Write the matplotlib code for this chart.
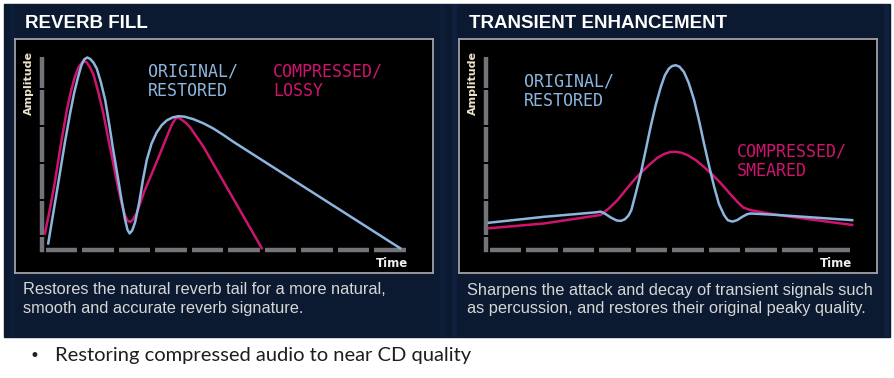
import matplotlib
matplotlib.use("Agg")
import matplotlib.pyplot as plt
from matplotlib.patches import Rectangle

# ---- data (time units, amplitude units) ----
# Reverb fill panel
reverb_orig_t = [0.17, 0.33, 0.49, 0.63, 0.77, 0.88, 0.99, 1.08, 1.16, 1.24, 1.32, 1.41,
                 1.50, 1.61, 1.73, 1.84, 1.95, 2.07, 2.18, 2.27, 2.34, 2.40, 2.47, 2.55,
                 2.66, 2.77, 2.87, 3.00, 3.14, 3.28, 3.42, 3.58, 3.73, 3.90, 4.15, 4.42,
                 4.69, 4.96, 5.24, 9.81]
reverb_orig_a = [0.15, 1.10, 2.05, 2.90, 3.67, 4.22, 4.66, 4.97, 5.13, 5.18, 5.14, 5.04,
                 4.88, 4.52, 4.03, 3.38, 2.68, 1.98, 1.32, 0.82, 0.52, 0.42, 0.50, 0.72,
                 1.25, 1.90, 2.41, 2.85, 3.15, 3.35, 3.48, 3.56, 3.59, 3.58, 3.51, 3.40,
                 3.26, 3.09, 2.90, 0.02]
reverb_lossy_t = [0.08, 0.22, 0.36, 0.52, 0.68, 0.80, 0.90, 1.01, 1.13, 1.22, 1.31, 1.41,
                  1.54, 1.68, 1.81, 1.95, 2.07, 2.18, 2.27, 2.34, 2.41, 2.48, 2.59, 2.80,
                  3.05, 3.25, 3.42, 3.55, 3.65, 3.73, 3.82, 3.93, 4.05, 4.42, 6.02]
reverb_lossy_a = [0.42, 1.10, 1.86, 2.85, 3.76, 4.30, 4.66, 4.93, 5.09, 5.05, 4.92, 4.72,
                  4.25, 3.67, 3.00, 2.32, 1.72, 1.23, 0.92, 0.77, 0.73, 0.78, 0.96, 1.55,
                  2.14, 2.62, 3.04, 3.35, 3.52, 3.56, 3.50, 3.42, 3.30, 2.77, 0.02]

# Transient enhancement panel
trans_orig_t = [0.08, 1.59, 3.00, 3.14, 3.25, 3.42, 3.58, 3.69, 3.80, 3.90, 3.98, 4.10,
                4.24, 4.38, 4.51, 4.65, 4.79, 4.90, 5.01, 5.10, 5.20, 5.30, 5.42, 5.55,
                5.70, 5.84, 5.97, 6.11, 6.25, 6.38, 6.52, 6.62, 6.75, 6.88, 7.02, 7.15,
                7.25, 7.98, 10.03]
trans_orig_a = [0.71, 0.87, 0.99, 1.01, 0.96, 0.85, 0.77, 0.76, 0.80, 0.90, 1.05, 1.50,
                2.05, 2.70, 3.31, 3.90, 4.39, 4.70, 4.88, 4.95, 4.97, 4.93, 4.79, 4.50,
                4.03, 3.45, 2.86, 2.25, 1.68, 1.22, 0.92, 0.78, 0.74, 0.78, 0.87, 0.94,
                0.96, 0.92, 0.78]
trans_smear_t = [0.08, 1.59, 3.14, 3.37, 3.60, 3.83, 4.05, 4.28, 4.51, 4.70, 4.88, 5.04,
                 5.20, 5.36, 5.52, 5.75, 5.97, 6.20, 6.43, 6.66, 6.88, 7.05, 7.25, 7.98,
                 10.03]
trans_smear_a = [0.56, 0.69, 0.92, 1.10, 1.32, 1.60, 1.86, 2.10, 2.31, 2.47, 2.57, 2.62,
                 2.63, 2.60, 2.54, 2.40, 2.22, 2.01, 1.78, 1.52, 1.28, 1.12, 1.05, 0.92,
                 0.65]

titles = ["REVERB FILL", "TRANSIENT ENHANCEMENT"]
captions = ["Restores the natural reverb tail for a more natural,\nsmooth and accurate reverb signature.",
            "Sharpens the attack and decay of transient signals such\nas percussion, and restores their original peaky quality."]
orig_labels = ["ORIGINAL/\nRESTORED", "ORIGINAL/\nRESTORED"]
other_labels = ["COMPRESSED/\nLOSSY", "COMPRESSED/\nSMEARED"]
bullet_text = "Restoring compressed audio to near CD quality"

BLUE = "#8db6de"
PINK = "#cf1470"
GREY = "#737379"
NAVY = "#0b1a31"

W, H = 894, 378
fig = plt.figure(figsize=(W / 100, H / 100), dpi=100)
fig.patch.set_facecolor("white")

# background layer in pixel coordinates
bg = fig.add_axes([0, 0, 1, 1])
bg.set_xlim(0, W)
bg.set_ylim(H, 0)
bg.axis("off")
bg.add_patch(Rectangle((4, 4), 886, 333, color=NAVY, zorder=0))
# faint light streaks in the backdrop
for x0, a in [(440, 0.12), (452, 0.18), (884, 0.18), (10, 0.1)]:
    bg.add_patch(Rectangle((x0, 4), 5, 333, color="#1d3f78", alpha=a, zorder=0.5, lw=0))

panel_x = [15, 459]
panel_w = 418
panel_top, panel_bot = 39, 273

for i in range(2):
    px = panel_x[i]
    bg.text(px + 10, 23, titles[i], color="white", fontsize=13.5, fontweight="bold",
            family="Liberation Sans", va="center", ha="left")
    bg.text(px + 8, 299, captions[i], color="#d6d6d6", fontsize=11.8,
            family="Liberation Sans", va="center", ha="left", linespacing=1.25)

    ax = fig.add_axes([px / W, 1 - panel_bot / H, panel_w / W, (panel_bot - panel_top) / H])
    ax.set_facecolor("black")
    for s in ax.spines.values():
        s.set_color("#a0a0a6")
        s.set_linewidth(1.3)
    ax.set_xticks([])
    ax.set_yticks([])
    ax.set_xlim(-0.74, 10.71)
    ax.set_ylim(-0.65, 5.68)

    # segmented axis bars
    for k in range(10):
        ax.plot([k + 0.1, k + 0.97], [-0.03, -0.03], color=GREY, lw=3.2,
                solid_capstyle="butt", zorder=1)
    ax.plot([-0.05, 0.05], [-0.03, -0.03], color=GREY, lw=3.2, solid_capstyle="butt", zorder=1)
    ybreaks = [-0.1, 0.36, 1.33, 2.33, 3.33, 4.33, 5.22]
    for y0, y1 in zip(ybreaks[:-1], ybreaks[1:]):
        ax.plot([0.0, 0.0], [y0 + 0.025, y1 - 0.025], color=GREY, lw=3.2,
                solid_capstyle="butt", zorder=1)

    ax.text(-0.35, 4.5, "Amplitude", rotation=90, color="#ece4cc", fontsize=8,
            fontweight="bold", family="Liberation Sans Narrow", ha="center", va="center")
    ax.text(9.59, -0.38, "Time", color="#f0f0f0", fontsize=8.5, fontweight="bold",
            family="Liberation Sans Narrow", ha="center", va="center")

ax_l, ax_r = fig.axes[1], fig.axes[2]

ax_l.plot(reverb_lossy_t, reverb_lossy_a, color=PINK, lw=1.8, zorder=3)
ax_l.plot(reverb_orig_t, reverb_orig_a, color=BLUE, lw=1.8, zorder=4)
ax_r.plot(trans_smear_t, trans_smear_a, color=PINK, lw=1.8, zorder=3)
ax_r.plot(trans_orig_t, trans_orig_a, color=BLUE, lw=1.8, zorder=4)

lab = dict(fontsize=12, family="DejaVu Sans Mono", va="top", ha="left", linespacing=1.1)
ax_l.text(2.9, 5.05, orig_labels[0], color=BLUE, **lab)
ax_l.text(6.33, 5.05, other_labels[0], color=PINK, **lab)
ax_r.text(1.04, 4.77, orig_labels[1], color=BLUE, **lab)
ax_r.text(6.88, 2.88, other_labels[1], color=PINK, **lab)

# bullet line below the image
bg.text(30, 356, "\u2022", color="#222222", fontsize=12, family="DejaVu Sans",
        va="center", ha="left")
bg.text(55, 356, bullet_text, color="#1e1e1e", fontsize=14.5, family="Lato",
        va="center", ha="left")

fig.savefig("out.png", dpi=100, facecolor="white")
